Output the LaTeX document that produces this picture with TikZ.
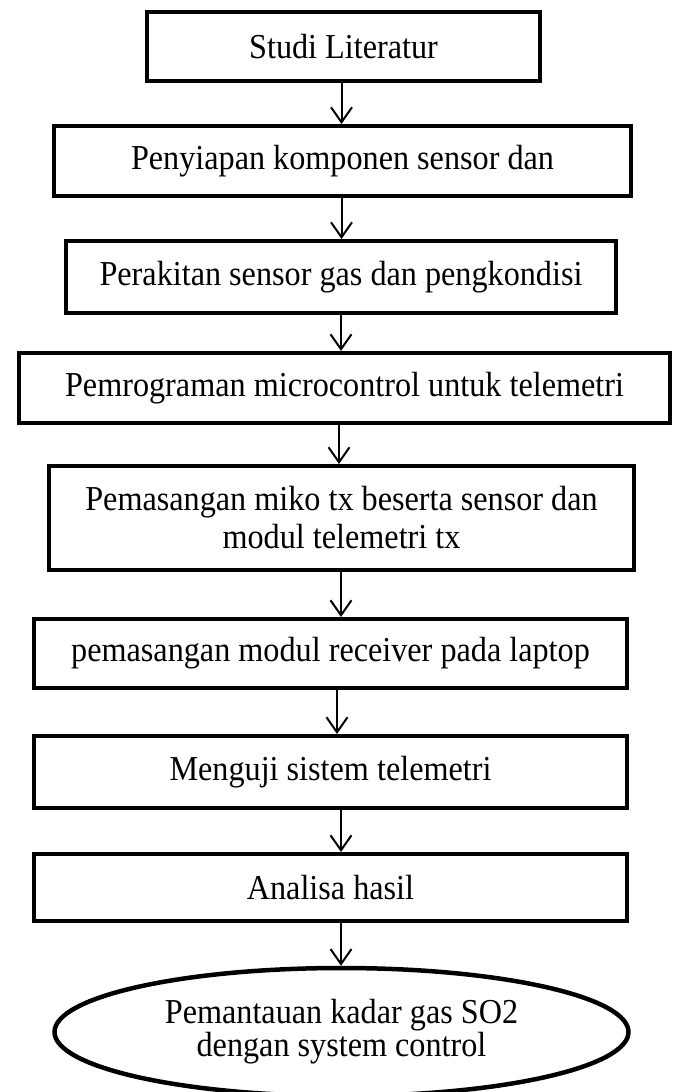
\documentclass[tikz,border=0pt]{standalone}
\usepackage{fontspec}
\setmainfont{Liberation Serif}[FakeStretch=0.92]
\usetikzlibrary{arrows.meta,shapes.geometric}
\begin{document}
\begin{tikzpicture}[x=1pt,y=-1pt,
  stepbox/.style={draw,line width=4pt,rectangle,inner sep=0pt,align=center,
    font=\fontsize{35}{38}\selectfont},
  endell/.style={draw,line width=4.5pt,ellipse,inner sep=0pt,align=center,
    font=\fontsize{35}{33}\selectfont,minimum width=574pt,minimum height=128pt},
  flow/.style={line width=2pt,-{Straight Barb[length=15pt,width=21pt]}}]
\clip (0,0) rectangle (675,1092);
\node[stepbox,minimum width=393pt,minimum height=69pt] (b1) at (343.5,46.5) {Studi Literatur};
\node[stepbox,minimum width=577pt,minimum height=70pt] (b2) at (342.5,161) {\raisebox{5pt}{Penyiapan komponen sensor dan}};
\node[stepbox,minimum width=550pt,minimum height=72pt] (b3) at (341,277) {\raisebox{2pt}{Perakitan sensor gas dan pengkondisi}};
\node[stepbox,minimum width=651pt,minimum height=70pt] (b4) at (344.5,388) {Pemrograman microcontrol untuk telemetri};
\node[stepbox,minimum width=585pt,minimum height=104pt] (b5) at (341.5,518) {Pemasangan miko tx beserta sensor dan\\modul telemetri tx};
\node[stepbox,minimum width=593pt,minimum height=69pt] (b6) at (330.5,653.5) {pemasangan modul receiver pada laptop};
\node[stepbox,minimum width=593pt,minimum height=72pt] (b7) at (330.5,772) {\raisebox{8pt}{Menguji sistem telemetri}};
\node[stepbox,minimum width=593pt,minimum height=67pt] (b8) at (330.5,887.5) {Analisa hasil};
\node[endell] (e) at (341.5,1032) {Pemantauan kadar gas SO2\\dengan system control};
\draw[flow] (b1.south -| 341.5,0) -- (b2.north -| 341.5,0);
\draw[flow] (b2.south -| 341.5,0) -- (b3.north -| 341.5,0);
\draw[flow] (b3.south -| 341,0) -- (b4.north -| 341,0);
\draw[flow] (b4.south -| 339,0) -- (b5.north -| 339,0);
\draw[flow] (b5.south -| 341,0) -- (b6.north -| 341,0);
\draw[flow] (b6.south -| 337,0) -- (b7.north -| 337,0);
\draw[flow] (b7.south -| 341,0) -- (b8.north -| 341,0);
\draw[flow] (b8.south -| 341,0) -- (e.north -| 341,0);
\end{tikzpicture}
\end{document}
